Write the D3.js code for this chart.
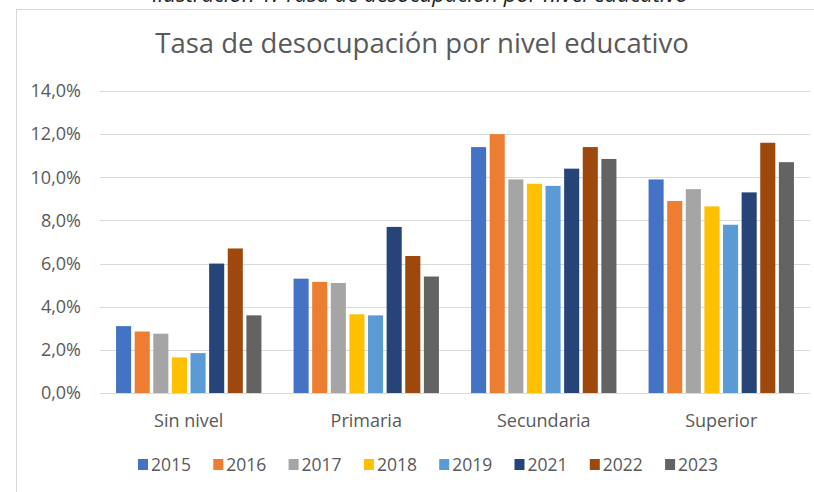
<!DOCTYPE html>
<html>
<head>
<meta charset="utf-8">
<script src="https://cdn.jsdelivr.net/npm/d3@7"></script>
<style>
  body { margin: 0; background: #fff; }
  svg { display: block; }
</style>
</head>
<body>
<script>
// data
var categories = ['Sin nivel', 'Primaria', 'Secundaria', 'Superior'];
var years = ['2015', '2016', '2017', '2018', '2019', '2021', '2022', '2023'];
var colors = ['#4472C4', '#ED7D31', '#A5A5A5', '#FFC000', '#5B9BD5', '#264478', '#9E480E', '#636363'];
var v2015 = [3.1, 5.3, 11.4, 9.9];
var v2016 = [2.85, 5.15, 12.0, 8.9];
var v2017 = [2.75, 5.1, 9.9, 9.45];
var v2018 = [1.65, 3.65, 9.7, 8.65];
var v2019 = [1.85, 3.6, 9.6, 7.8];
var v2021 = [6.0, 7.7, 10.4, 9.3];
var v2022 = [6.7, 6.35, 11.4, 11.6];
var v2023 = [3.6, 5.4, 10.85, 10.7];
var series = [v2015, v2016, v2017, v2018, v2019, v2021, v2022, v2023];
var yTicks = [0, 2, 4, 6, 8, 10, 12, 14];

var W = 814, H = 492;
var FONT = "'Open Sans', sans-serif";
var TXT = '#595959';

var svg = d3.select('body').append('svg').attr('width', W).attr('height', H);

// caption above the chart (cut off at the top, as in the screenshot)
svg.append('text')
  .attr('x', 420).attr('y', 2)
  .attr('text-anchor', 'middle')
  .style('font-family', FONT).style('font-style', 'italic')
  .style('font-size', '22px').attr('fill', '#222')
  .text('Ilustración 1: Tasa de desocupación por nivel educativo');

// chart frame
svg.append('rect')
  .attr('x', 16.5).attr('y', 9.5).attr('width', 820).attr('height', 500)
  .attr('fill', '#fff').attr('stroke', '#d9d9d9');

// title
svg.append('text')
  .attr('x', 422).attr('y', 53)
  .attr('text-anchor', 'middle')
  .style('font-family', FONT).style('font-size', '27.5px')
  .attr('fill', TXT)
  .text('Tasa de desocupación por nivel educativo');

var x0 = d3.scaleBand().domain(categories).range([100, 810]).paddingInner(0.181).paddingOuter(0.0905);
var x1 = d3.scaleBand().domain(years).range([0, x0.bandwidth()]).paddingInner(0.19);
var y = d3.scaleLinear().domain([0, 14]).range([393, 91]);

// gridlines
svg.append('g').selectAll('line').data(yTicks).join('line')
  .attr('x1', 100).attr('x2', 810)
  .attr('y1', function(d) { return Math.round(y(d)) + 0.5; })
  .attr('y2', function(d) { return Math.round(y(d)) + 0.5; })
  .attr('stroke', '#d9d9d9').attr('stroke-width', 1);

// y axis labels
var fmt = function(d) { return d.toFixed(1).replace('.', ',') + '%'; };
svg.append('g').selectAll('text').data(yTicks).join('text')
  .attr('x', 81).attr('y', function(d) { return y(d); })
  .attr('dy', '0.35em')
  .attr('text-anchor', 'end')
  .style('font-family', FONT).style('font-size', '18px')
  .attr('fill', TXT)
  .text(fmt);

// bars
for (var k = 0; k < years.length; k++) {
  svg.append('g').attr('fill', colors[k])
    .selectAll('rect').data(series[k]).join('rect')
    .attr('x', function(d, i) { return x0(categories[i]) + x1(years[k]); })
    .attr('y', function(d) { return y(d); })
    .attr('width', x1.bandwidth())
    .attr('height', function(d) { return y(0) - y(d); });
}

// category labels
svg.append('g').selectAll('text').data(categories).join('text')
  .attr('x', function(d) { return x0(d) + x0.bandwidth() / 2; })
  .attr('y', 427)
  .attr('text-anchor', 'middle')
  .style('font-family', FONT).style('font-size', '18px')
  .attr('fill', TXT)
  .text(function(d) { return d; });

// legend
var leg = svg.append('g').selectAll('g').data(years).join('g')
  .attr('transform', function(d, i) { return 'translate(' + (138 + i * 75.3) + ',0)'; });
leg.append('rect')
  .attr('x', 0).attr('y', 459).attr('width', 10).attr('height', 11)
  .attr('fill', function(d, i) { return colors[i]; });
leg.append('text')
  .attr('x', 13).attr('y', 471)
  .style('font-family', FONT).style('font-size', '17.5px')
  .attr('fill', TXT)
  .text(function(d) { return d; });
</script>
</body>
</html>
